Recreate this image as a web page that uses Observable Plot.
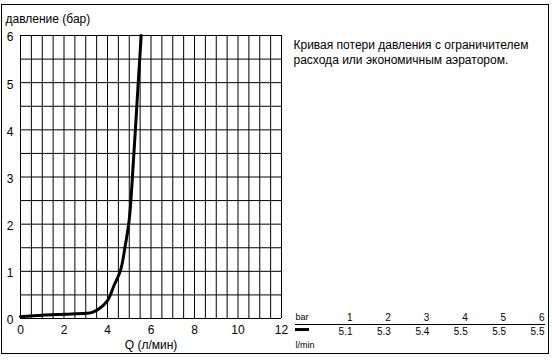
<!DOCTYPE html>
<html>
<head>
<meta charset="utf-8">
<script src="https://cdn.jsdelivr.net/npm/d3@7"></script>
<script src="https://cdn.jsdelivr.net/npm/@observablehq/plot@0.6"></script>
<style>
  html, body { margin: 0; padding: 0; background: #fff; }
  #wrap { position: relative; width: 552px; height: 360px; }
  #wrap svg { position: absolute; left: 0; top: 0; }
  #border { position: absolute; left: 1px; top: 4px; width: 546px; height: 348px; border: 1px solid #000; pointer-events: none; }
</style>
</head>
<body>
<div id="wrap"><div id="border"></div></div>
<script>
// Curve: flow Q (l/min) vs pressure loss (bar)
const flowQ    = [0,    1,    2,    3,    3.3,  3.6, 4.0,  4.3, 4.6,  4.8, 5.0, 5.2, 5.4, 5.55];
const pressure = [0.04, 0.07, 0.09, 0.11, 0.13, 0.2, 0.38, 0.7, 1.02, 1.5, 2.1, 3.4, 4.9, 6.0];

const xTicks = [0, 2, 4, 6, 8, 10, 12];
const yTicks = [0, 1, 2, 3, 4, 5, 6];
const xGrid = d3.range(0, 12.01, 0.5);
const yGrid = d3.range(0, 6.01, 0.5);

const yLabel = "давление (бар)";
const xLabel = "Q (л/мин)";
const note = "Кривая потери давления с ограничителем\nрасхода или экономичным аэратором.";

// Legend table
const legendBar  = [1, 2, 3, 4, 5, 6];
const legendFlow = [5.1, 5.3, 5.4, 5.5, 5.5, 5.5];
const legendUnitTop = "bar";
const legendUnitBottom = "l/min";

const curve = flowQ.map((q, i) => ({q, p: pressure[i]}));
const font = "Liberation Sans, Arial, sans-serif";

const main = Plot.plot({
  width: 552,
  height: 360,
  marginLeft: 20,
  marginRight: 271,
  marginTop: 35,
  marginBottom: 42,
  style: {fontFamily: font, fontSize: "12px", background: "transparent", color: "#000"},
  x: {domain: [0, 12]},
  y: {domain: [0, 6]},
  marks: [
    Plot.gridX(xGrid, {stroke: "#000", strokeOpacity: 1, strokeWidth: 1}),
    Plot.gridY(yGrid, {stroke: "#000", strokeOpacity: 1, strokeWidth: 1}),
    Plot.axisX(xTicks, {tickSize: 0, tickPadding: 7, label: null, fontSize: 12}),
    Plot.axisY(yTicks, {tickSize: 0, tickPadding: 7, dy: 2, label: null, fontSize: 12}),
    Plot.line(curve, {x: "q", y: "p", stroke: "#000", strokeWidth: 3, curve: "catmull-rom"}),
    Plot.text([xLabel], {text: d => d, frameAnchor: "bottom", lineAnchor: "middle", dy: 27, fontSize: 12}),
    Plot.text([yLabel], {text: d => d, frameAnchor: "top-left", lineAnchor: "middle", dx: -15, dy: -16, textAnchor: "start", fontSize: 12}),
    Plot.text([note], {text: d => d, frameAnchor: "top-right", lineAnchor: "top", dx: 12, dy: 3, textAnchor: "start", lineHeight: 1.25, fontSize: 12})
  ]
});

const legend = Plot.plot({
  width: 552,
  height: 360,
  marginLeft: 352,
  marginRight: 8,
  marginTop: 317,
  marginBottom: 29,
  style: {fontFamily: font, fontSize: "10px", background: "transparent", color: "#000"},
  x: {domain: [1, 6], axis: null},
  y: {domain: [0, 1], axis: null},
  marks: [
    Plot.text(legendBar, {x: d => d, y: () => 1, text: d => String(d), textAnchor: "end", fontSize: 10}),
    Plot.text(legendFlow, {x: (d, i) => legendBar[i], y: () => 0, text: d => d.toFixed(1), textAnchor: "end", fontSize: 10}),
    Plot.ruleY([0.5], {stroke: "#000", strokeWidth: 1, insetLeft: -57, insetRight: -1}),
    Plot.ruleY([0.14], {stroke: "#000", strokeWidth: 3, insetLeft: -57, insetRight: 235}),
    Plot.text([legendUnitTop], {text: d => d, frameAnchor: "top-left", lineAnchor: "middle", dx: -57, textAnchor: "start", fontSize: 9}),
    Plot.text([legendUnitBottom], {text: d => d, frameAnchor: "bottom-left", lineAnchor: "middle", dx: -57, dy: 14, textAnchor: "start", fontSize: 9})
  ]
});

const wrap = document.getElementById("wrap");
wrap.insertBefore(main, wrap.firstChild);
wrap.insertBefore(legend, document.getElementById("border"));
</script>
</body>
</html>
